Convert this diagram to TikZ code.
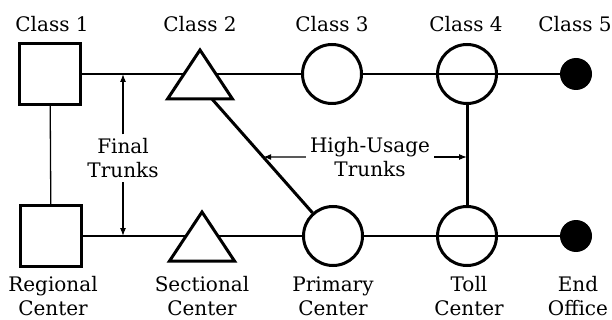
\documentclass[tikz,border=0pt]{standalone}
\usepackage{fontspec}
\setmainfont{DejaVu Serif}
\usetikzlibrary{arrows.meta,backgrounds,intersections,calc}
\begin{document}
\begin{tikzpicture}[x=1pt,y=-1pt,
  every node/.style={font=\fontsize{20}{24}\selectfont},
  office/.style={draw,line width=3pt,minimum size=61pt,inner sep=0pt,fill=white},
  switch/.style={circle,draw,line width=3pt,minimum size=59pt,inner sep=0pt},
  endoff/.style={circle,fill=black,minimum size=32pt,inner sep=0pt},
  tri/.style={draw,line width=3pt,fill=white,line join=miter},
  trunk/.style={line width=1.3pt},
  heavy/.style={line width=3pt},
  pointer/.style={line width=1.1pt,-{Latex[length=8pt,width=6pt]}},
  caption/.style={align=center,inner sep=0pt},
  tag/.style={align=center,inner xsep=4pt,inner ysep=4pt}]
\useasboundingbox (0,0) rectangle (612,320);

% upper row of offices
\node[office] (sq1) at (50,74) {};
\coordinate (tri2) at (200,74);
\draw[tri] ($(tri2)+(0,-24)$) -- ($(tri2)+(32.5,25)$) -- ($(tri2)+(-32.5,25)$) -- cycle;
\node[switch,fill=white] (c3) at (332,74) {};
\node[switch] (c4) at (467,74) {};
\node[endoff] (d5) at (576,74) {};

% lower row of offices
\node[office] (sq2) at (51,236) {};
\coordinate (tri6) at (202,236);
\draw[tri] ($(tri6)+(0,-24)$) -- ($(tri6)+(32.5,25)$) -- ($(tri6)+(-32.5,25)$) -- cycle;
\node[switch,fill=white] (prim) at (333,236) {};
\node[switch] (toll) at (467,236) {};
\node[endoff] (endo) at (576,236) {};

% final trunks, drawn under the office symbols
\begin{pgfonlayer}{background}
  \draw[trunk] (sq1.center) -- (tri2) -- (c3.center) -- (c4.center) -- (d5.center);
  \draw[trunk] (sq2.center) -- (tri6) -- (prim.center) -- (toll.center) -- (endo.center);
\end{pgfonlayer}
\draw[trunk] (sq1) -- (sq2);

% high-usage trunks
\draw[heavy,name path=diag] ($(tri2)+(12,25)$) -- (prim);
\draw[heavy] (c4) -- (toll);

% class labels
\node[anchor=base] (k1) at (52,32) {Class 1};
\node[anchor=base] (k2) at (200,32) {Class 2};
\node[anchor=base] (k3) at (332,32) {Class 3};
\node[anchor=base] (k4) at (466,32) {Class 4};
\node[anchor=base] (k5) at (575,32) {Class 5};

% office names
\node[caption] (n1) at (53,296.5) {Regional\\Center};
\node[caption] (n2) at (202,296.5) {Sectional\\Center};
\node[caption] (n3) at (333,296.5) {Primary\\Center};
\node[caption] (n4) at (469,296.5) {Toll\\Center};
\node[caption] (n5) at (578,296.5) {End\\Office};

% trunk annotations
\node[tag] (fin) at (123,158.4) {Final\\Trunks};
\draw[pointer] (fin.north) -- (fin.north |- sq1.center);
\draw[pointer] (fin.south) -- (fin.south |- sq2.center);

\node[tag] (hu) at (370,157) {High-Usage\\Trunks};
\path[name path=hul] (hu.west) -- ++(-120,0);
\draw[pointer,name intersections={of=diag and hul}] (hu.west) -- (intersection-1);
\draw[pointer] (hu.east) -- (hu.east -| c4.center);
\end{tikzpicture}
\end{document}
